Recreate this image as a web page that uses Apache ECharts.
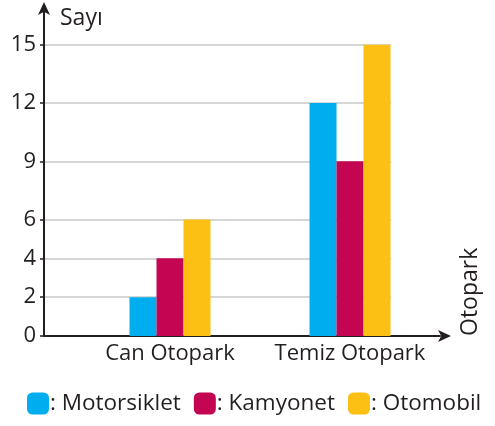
<!DOCTYPE html>
<html>
<head>
<meta charset="utf-8">
<script src="https://cdn.jsdelivr.net/npm/echarts@6/dist/echarts.min.js"></script>
<style>
  html, body { margin: 0; padding: 0; background: #fff; }
  #chart { width: 495px; height: 426px; }
</style>
</head>
<body>
<div id="chart"></div>
<script>
const categories = ["Can Otopark", "Temiz Otopark"];
const seriesNames = ["Motorsiklet", "Kamyonet", "Otomobil"];
const motorsiklet = [2, 12];
const kamyonet = [4, 9];
const otomobil = [6, 15];
const yTicks = [0, 2, 4, 6, 9, 12, 15];

const colors = ["#00aeef", "#c40652", "#fcbf14"];
const ink = "#231f20";
const font = "Open Sans";

const chart = echarts.init(document.getElementById("chart"));

const option = {
  animation: false,
  color: colors,
  textStyle: { fontFamily: font, color: ink },
  grid: [
    // main grid holding the bars
    { left: 80, right: 55, top: 6, bottom: 90 },
    // helper grid for gridlines and left part of the x axis
    { left: 44, right: 104, top: 6, bottom: 90 },
  ],
  legend: {
    bottom: 6,
    left: 22,
    icon: "roundRect",
    itemWidth: 22,
    itemHeight: 22,
    itemGap: 13,
    formatter: (name) => ": " + name,
    textStyle: { fontSize: 22.5, color: ink, fontFamily: font, padding: [0, 0, 0, -4] },
    data: seriesNames,
  },
  xAxis: [
    {
      type: "category",
      gridIndex: 0,
      data: categories,
      name: "Otopark",
      nameLocation: "end",
      nameRotate: 90,
      nameGap: 30,
      nameTextStyle: { fontSize: 23, color: ink, fontFamily: font, align: "left", verticalAlign: "middle" },
      axisLine: {
        lineStyle: { color: ink, width: 2 },
        symbol: ["none", "arrow"],
        symbolSize: [9, 13],
        symbolOffset: [0, 11],
      },
      axisTick: { show: false },
      axisLabel: { fontSize: 22, color: ink, margin: 7, interval: 0, hideOverlap: false },
    },
    {
      type: "value",
      gridIndex: 1,
      min: 0,
      max: 1,
      axisLine: { lineStyle: { color: ink, width: 2 } },
      axisTick: { show: false },
      axisLabel: { show: false },
      splitLine: { show: false },
    },
  ],
  yAxis: [
    {
      type: "value",
      gridIndex: 0,
      min: 0,
      max: 17,
      interval: 1,
      offset: 36,
      name: "Sayı",
      nameLocation: "end",
      nameGap: -24,
      nameTextStyle: { fontSize: 23, color: ink, fontFamily: font, align: "left", padding: [0, 0, 0, 16] },
      axisLine: {
        show: true,
        lineStyle: { color: ink, width: 2 },
        symbol: ["none", "arrow"],
        symbolSize: [9, 13],
        symbolOffset: [0, 4],
      },
      axisTick: { show: true, length: 4, customValues: yTicks, lineStyle: { color: ink, width: 1.5 } },
      axisLabel: { customValues: yTicks, fontSize: 22, color: ink, margin: 8 },
      splitLine: { show: false },
    },
    {
      type: "value",
      gridIndex: 1,
      min: 0,
      max: 17,
      interval: 1,
      axisLine: { show: false },
      axisTick: { show: false, customValues: yTicks.slice(1) },
      axisLabel: { show: false },
      splitLine: { show: true, lineStyle: { color: "#c8c8c8", width: 1.5 } },
    },
  ],
  series: [
    { name: seriesNames[0], type: "bar", data: motorsiklet, barWidth: 27, barGap: "0%" },
    { name: seriesNames[1], type: "bar", data: kamyonet, barWidth: 27, barGap: "0%" },
    { name: seriesNames[2], type: "bar", data: otomobil, barWidth: 27, barGap: "0%" },
  ],
};

chart.setOption(option);
</script>
</body>
</html>
